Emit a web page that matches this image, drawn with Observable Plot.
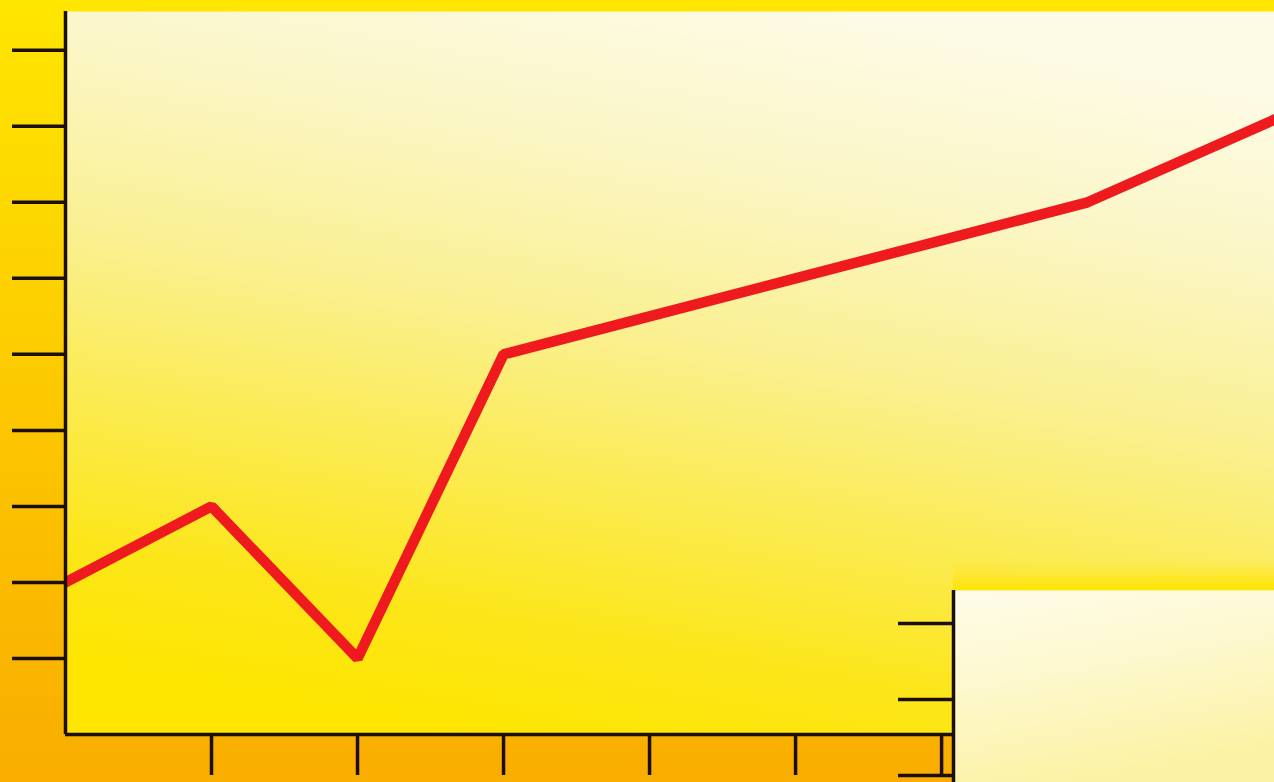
<!DOCTYPE html>
<html>
<head>
<meta charset="utf-8">
<script src="https://cdn.jsdelivr.net/npm/d3@7"></script>
<script src="https://cdn.jsdelivr.net/npm/@observablehq/plot@0.6"></script>
<style>
  html, body { margin: 0; padding: 0; overflow: hidden; background: #fbc400; }
  #wrap { position: relative; width: 1274px; height: 782px; }
  #main, #inset { position: absolute; }
  #main { left: 0; top: 0; }
  #inset { left: 898px; top: 560px; }
</style>
</head>
<body>
<div id="wrap"><div id="main"></div><div id="inset"></div></div>
<script>
// ---- data ----
const periods = [0, 1, 2, 3, 4, 5, 6, 7, 8, 9];
const values  = [2, 3, 1, 5, 5.5, 6, 6.5, 7, 7.85, 8.7];
const xDomain = [0, 8.28];
const yDomain = [0, 9.51];
const xTicks  = [1, 2, 3, 4, 5, 6];
const yTicks  = [1, 2, 3, 4, 5, 6, 7, 8, 9];
const insetYDomain = [-0.092, 2.434];
const insetTicks   = [0, 1, 2];

const series = periods.map((p, i) => ({period: p, value: values[i]}));
const ink = "#1c0f0a";

// ---- main chart ----
const main = Plot.plot({
  width: 1274,
  height: 782,
  marginLeft: 65,
  marginRight: 0,
  marginTop: 11,
  marginBottom: 48,
  style: {background: "linear-gradient(to bottom, #ffe600 0%, #fdd800 25%, #fcc600 55%, #fab500 85%, #f9ad00 100%)", overflow: "hidden"},
  x: {domain: xDomain, axis: null},
  y: {domain: yDomain, axis: null},
  marks: [
    Plot.frame({fill: "url(#mainFill)", stroke: "none"}),
    Plot.line(series, {x: "period", y: "value", stroke: "#ef1a1d", strokeWidth: 10.5, strokeLinejoin: "miter", clip: true}),
    Plot.axisY({ticks: yTicks, tickSize: 53, tickFormat: () => "", label: null, stroke: ink, strokeWidth: 3.5}),
    Plot.axisX({ticks: xTicks, tickSize: 41, tickFormat: () => "", label: null, stroke: ink, strokeWidth: 3.5}),
    Plot.ruleX([0], {stroke: ink, strokeWidth: 3.5}),
    Plot.ruleY([0], {stroke: ink, strokeWidth: 3.5})
  ]
});
{
  const defs = d3.select(main).insert("defs", ":first-child");
  const g = defs.append("linearGradient").attr("id", "mainFill")
    .attr("x1", 0.35).attr("y1", 1).attr("x2", 0.65).attr("y2", 0);
  [[0, "#fde500"], [0.15, "#fce61a"], [0.35, "#fbeb55"], [0.55, "#faf092"], [0.78, "#fbf6c6"], [1, "#fdfbe6"]]
    .forEach(([o, c]) => g.append("stop").attr("offset", o).attr("stop-color", c));
}
document.getElementById("main").append(main);

// ---- inset panel ----
const inset = Plot.plot({
  width: 376,
  height: 222,
  marginLeft: 55,
  marginRight: 0,
  marginTop: 30,
  marginBottom: 0,
  style: {
    background: "linear-gradient(to bottom, rgba(253,230,0,0) 0px, #fde838 14px, #fde400 30px) no-repeat 55px 0 / 321px 30px",
    overflow: "hidden"
  },
  x: {domain: [0, 1], axis: null},
  y: {domain: insetYDomain, axis: null},
  marks: [
    Plot.frame({fill: "url(#insetFill)", stroke: "none"}),
    Plot.axisY({ticks: insetTicks, tickSize: 55, tickFormat: () => "", label: null, stroke: ink, strokeWidth: 3.5}),
    Plot.ruleX([0], {stroke: ink, strokeWidth: 3.5})
  ]
});
{
  const defs = d3.select(inset).insert("defs", ":first-child");
  const g = defs.append("linearGradient").attr("id", "insetFill")
    .attr("x1", 0).attr("y1", 0).attr("x2", 0.3).attr("y2", 1);
  [[0, "#fefcea"], [0.5, "#fdf8cc"], [1, "#fcf2a6"]]
    .forEach(([o, c]) => g.append("stop").attr("offset", o).attr("stop-color", c));
}
document.getElementById("inset").append(inset);
</script>
</body>
</html>
